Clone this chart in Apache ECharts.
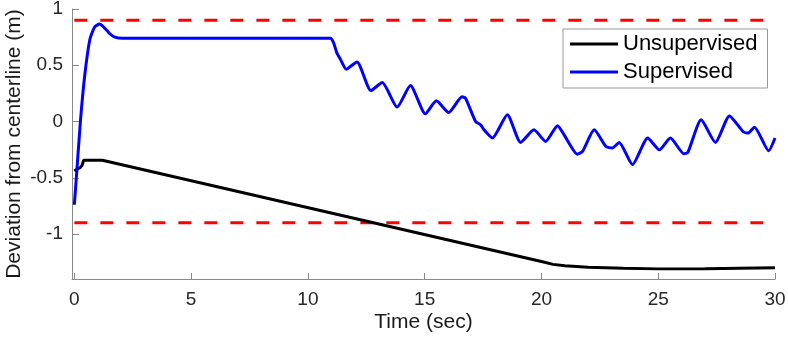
<!DOCTYPE html>
<html>
<head>
<meta charset="utf-8">
<script src="https://cdn.jsdelivr.net/npm/echarts@6/dist/echarts.min.js"></script>
<style>
  html, body { margin: 0; padding: 0; background: #fff; }
  #chart { width: 788px; height: 341px; }
</style>
</head>
<body>
<div id="chart"></div>
<script>
// tick labels
var xTicks = [0, 5, 10, 15, 20, 25, 30];
var yTicks = [-1, -0.5, 0, 0.5, 1];

// supervised (blue) run
var supT = [0, 0.1, 0.26, 0.44, 0.66, 0.87, 1.09, 1.3, 1.52, 1.73, 2.07, 10.96, 11.1, 11.24, 11.4, 11.64,
  12.1, 12.7, 13.18, 13.82, 14.39, 15.03, 15.5, 16.03, 16.6, 16.75, 17.18, 17.4, 17.54, 17.9, 18.54,
  19.11, 19.68, 20.18, 20.69, 20.97, 21.54, 21.76, 22.26, 22.76, 23.04, 23.33, 23.9, 24.55, 25.05,
  25.52, 26.1, 26.27, 26.84, 27.45, 28.05, 28.63, 28.84, 29.12, 29.73, 30];
var supV = [-0.74, -0.46, 0, 0.40, 0.725, 0.84, 0.867, 0.83, 0.78, 0.75, 0.74, 0.74, 0.70, 0.61, 0.55, 0.465,
  0.53, 0.275, 0.346, 0.128, 0.32, 0.068, 0.184, 0.08, 0.22, 0.207, 0.0, -0.03, -0.074, -0.147, 0.06,
  -0.186, -0.074, -0.177, -0.038, -0.118, -0.29, -0.266, -0.074, -0.222, -0.236, -0.186, -0.384, -0.147, -0.251,
  -0.147, -0.287, -0.275, 0.015, -0.186, 0.05, -0.089, -0.103, -0.05, -0.26, -0.147];

// unsupervised (black) run
var unsT = [0, 0.15, 0.25, 0.33, 0.4, 1.2, 20.0, 20.5, 21.0, 22, 23.5, 25, 27, 30];
var unsV = [-0.44, -0.42, -0.41, -0.39, -0.345, -0.345, -1.245, -1.27, -1.283, -1.295, -1.305, -1.31, -1.308, -1.30];

// lane limits
var limitT = [0, 30];
var limitV = 0.9;

function zip(t, v) {
  var res = [];
  for (var i = 0; i < t.length; i++) {
    res.push([t[i], v[i]]);
  }
  return res;
}

var font = "'Liberation Sans', Arial, Helvetica, sans-serif";
var axisGray = "#8a8a8a";

var myChart = echarts.init(document.getElementById("chart"));
var option = {
  animation: false,
  textStyle: { fontFamily: font },
  grid: { left: 72, right: 13, top: 9, bottom: 62, containLabel: false, outerBoundsMode: "none" },
  legend: {
    data: ["Unsupervised", "Supervised"],
    orient: "vertical",
    left: 563,
    top: 29,
    padding: [4, 10, 5, 7],
    itemGap: 6,
    itemWidth: 48,
    itemHeight: 3,
    icon: "rect",
    borderColor: "#999",
    borderWidth: 1,
    backgroundColor: "#fff",
    textStyle: { fontSize: 22, color: "#000", fontFamily: font }
  },
  xAxis: {
    type: "value",
    min: -0.1,
    max: 30,
    name: "Time (sec)",
    nameLocation: "middle",
    nameGap: 33,
    nameMoveOverlap: false,
    nameTextStyle: { fontSize: 21, color: "#1a1a1a", fontFamily: font },
    splitLine: { show: false },
    axisLine: { show: true, onZero: false, lineStyle: { color: axisGray, width: 1 } },
    axisTick: { inside: true, length: 6, customValues: xTicks, lineStyle: { color: axisGray } },
    axisLabel: { customValues: xTicks, margin: 11, fontSize: 19, color: "#262626", fontFamily: font }
  },
  yAxis: {
    type: "value",
    min: -1.4,
    max: 1,
    name: "Deviation from centerline (m)",
    nameLocation: "middle",
    nameGap: 47,
    nameMoveOverlap: false,
    nameTextStyle: { fontSize: 21, color: "#1a1a1a", fontFamily: font },
    splitLine: { show: false },
    axisLine: { show: true, onZero: false, lineStyle: { color: axisGray, width: 1 } },
    axisTick: { show: true, inside: true, length: 7, customValues: yTicks, lineStyle: { color: axisGray } },
    axisLabel: { customValues: yTicks, margin: 9, fontSize: 19, color: "#262626", fontFamily: font }
  },
  series: [
    {
      name: "limitUp",
      type: "line",
      data: zip(limitT, [limitV, limitV]),
      symbol: "none",
      silent: true,
      lineStyle: { color: "#ff0000", width: 3, type: [13, 13] }
    },
    {
      name: "limitDown",
      type: "line",
      data: zip(limitT, [-limitV, -limitV]),
      symbol: "none",
      silent: true,
      lineStyle: { color: "#ff0000", width: 3, type: [13, 13] }
    },
    {
      name: "Unsupervised",
      type: "line",
      data: zip(unsT, unsV),
      symbol: "none",
      itemStyle: { color: "#000" },
      lineStyle: { color: "#000", width: 3 }
    },
    {
      name: "Supervised",
      type: "line",
      data: zip(supT, supV),
      symbol: "none",
      smooth: 0.2,
      itemStyle: { color: "#0000ff" },
      lineStyle: { color: "#0000ff", width: 3 }
    }
  ]
};
myChart.setOption(option);
</script>
</body>
</html>
